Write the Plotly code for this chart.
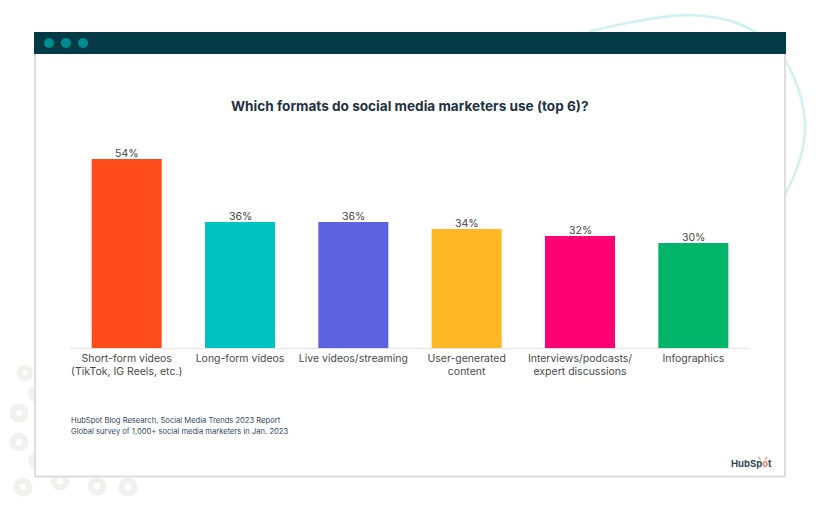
import plotly.graph_objects as go

# Values
categories = [
    "Short-form videos<br>(TikTok, IG Reels, etc.)",
    "Long-form videos",
    "Live videos/streaming",
    "User-generated<br>content",
    "Interviews/podcasts/<br>expert discussions",
    "Infographics",
]
shares = [54, 36, 36, 34, 32, 30]
bar_colors = ["#FF4C1C", "#00C3C1", "#5C62E0", "#FFB726", "#FF0073", "#00B56A"]
source_lines = [
    "HubSpot Blog Research, Social Media Trends 2023 Report",
    "Global survey of 1,000+ social media marketers in Jan. 2023",
]

W, H = 820, 509
LEFT, RIGHT, TOP, BOTTOM = 70, 750, 138, 348
FONT = "Inter"


# page pixels to paper coordinates, for the window decoration around the chart
def px_x(x):
    return (x - LEFT) / (RIGHT - LEFT)


def px_y(y):
    return (BOTTOM - y) / (BOTTOM - TOP)


def box(x0, y0, x1, y1, fill, line=None, width=0):
    return dict(type="rect", xref="paper", yref="paper", layer="below",
                x0=px_x(x0), y0=px_y(y0), x1=px_x(x1), y1=px_y(y1),
                fillcolor=fill, line=dict(color=line or fill, width=width))


def dot(cx, cy, r, fill):
    return dict(type="circle", xref="paper", yref="paper", layer="below",
                x0=px_x(cx - r), y0=px_y(cy - r), x1=px_x(cx + r), y1=px_y(cy + r),
                fillcolor=fill, line=dict(width=0))


def spoke(x0, y0, x1, y1):
    return dict(type="line", xref="paper", yref="paper", layer="above",
                x0=px_x(x0), y0=px_y(y0), x1=px_x(x1), y1=px_y(y1),
                line=dict(color="#FF7A59", width=1.2))


def curve(points):
    path = "M %f %f" % (px_x(points[0][0]), px_y(points[0][1]))
    for c1, c2, end in points[1:]:
        path += " C %f %f %f %f %f %f" % (px_x(c1[0]), px_y(c1[1]), px_x(c2[0]), px_y(c2[1]),
                                          px_x(end[0]), px_y(end[1]))
    return dict(type="path", xref="paper", yref="paper", layer="below", path=path,
                line=dict(color="#CFF2F0", width=2.5))


shapes = []
# swirl behind the window
shapes.append(curve([(590, 31),
                     ((635, 21), (665, 15), (690, 15)),
                     ((725, 16), (760, 25), (785, 60)),
                     ((800, 85), (805, 110), (805, 127)),
                     ((805, 150), (798, 172), (782, 200))]))
# rings bottom left
for cx, cy, r in [(25, 373, 8), (36, 394, 8), (19, 413, 9.5), (19, 442, 9.5), (36, 461, 8),
                  (23, 487, 9.5), (60, 481, 9.5), (97, 486, 9.5), (128, 487, 9.5)]:
    shapes.append(dot(cx, cy, r, "#F1F1EE"))
    shapes.append(dot(cx, cy, r * 0.33, "#FFFFFF"))
# window
shapes.append(box(35, 33, 785, 476.5, "#FFFFFF", "#DEDEDE", 2))
shapes.append(box(34, 32, 786, 54, "#033A45"))
for cx in [49, 66, 83]:
    shapes.append(dot(cx, 43, 5, "#008C8F"))
# sprocket spokes on the logo
shapes.append(spoke(760.5, 460, 758.5, 457))
shapes.append(spoke(765.5, 459.5, 767, 457))

annotations = [
    dict(text="<b>Which formats do social media marketers use (top 6)?</b>",
         x=px_x(410), y=px_y(106), font=dict(size=13.6, color="#1F3244", family=FONT)),
    dict(text="<b>HubSp<span style='color:#FF7A59'>o</span>t</b>",
         x=px_x(751.5), y=px_y(463), font=dict(size=9.5, color="#33475B", family=FONT)),
]
for i, line in enumerate(source_lines):
    annotations.append(dict(text=line, x=px_x(68.5), y=px_y(420 + 11 * i), xanchor="left",
                            font=dict(size=7.6, color="#33475B", family=FONT)))
for a in annotations:
    a.update(xref="paper", yref="paper", showarrow=False)
    a.setdefault("xanchor", "center")
    a.setdefault("yanchor", "middle")
# value labels sit closer to the bars than textposition outside allows
for cat, v in zip(categories, shares):
    annotations.append(dict(text=str(v) + "%", x=cat, y=v, xref="x", yref="y", showarrow=False,
                            yanchor="bottom", yshift=-3,
                            font=dict(size=10.5, color="#444444", family=FONT)))

fig = go.Figure(go.Bar(
    x=categories,
    y=shares,
    marker=dict(color=bar_colors, line=dict(width=0)),
    width=0.618,
))

fig.update_layout(
    width=W,
    height=H,
    autosize=False,
    showlegend=False,
    paper_bgcolor="#FFFFFF",
    plot_bgcolor="rgba(0,0,0,0)",
    margin=dict(l=LEFT, r=W - RIGHT, t=TOP, b=H - BOTTOM, pad=0),
    shapes=shapes,
    annotations=annotations,
    xaxis=dict(type="category", showline=True, linecolor="#E3E3E3", linewidth=1, ticks="",
               showgrid=False, tickfont=dict(size=10.5, color="#4A4A4A", family=FONT)),
    yaxis=dict(range=[0, 60], visible=False, showgrid=False, zeroline=False),
)

fig.write_html("out.html", config=dict(displayModeBar=False),
               post_script="document.body.style.margin='0';document.body.style.overflow='hidden';")
